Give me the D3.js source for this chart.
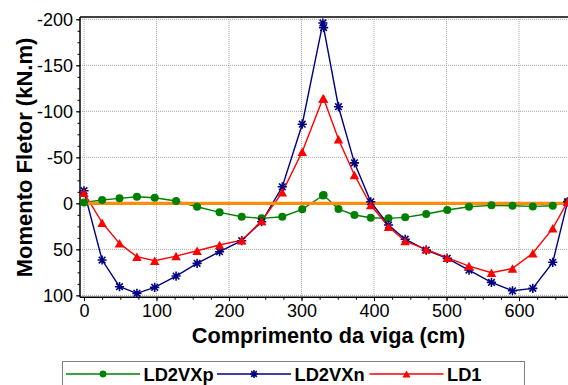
<!DOCTYPE html>
<html>
<head>
<meta charset="utf-8">
<script src="https://cdn.jsdelivr.net/npm/d3@7"></script>
<style>
html, body { margin: 0; padding: 0; background: #fff; }
svg { display: block; font-family: "Liberation Sans", Arial, sans-serif; }
</style>
</head>
<body>
<svg id="chart" width="568" height="385"></svg>
<script>
// ---- data ----
const positions = [0, 25, 49, 73, 97.5, 127, 156, 187, 217.5, 245, 273.5, 301, 329.5, 330.5, 351, 373, 395.5, 420, 443, 472, 501, 531, 562, 591, 619, 646.5, 667];
const LD2VXp = [-1, -3.6, -5.4, -7.2, -6.1, -2.5, 3.7, 9.8, 14.6, 16.3, 14.6, 6.5, -8.5, -9, 6.2, 12.7, 15.6, 16.3, 15.2, 11.6, 7.3, 3.7, 2.2, 2.6, 3.3, 2.6, -1.7];
const LD2VXn = [-13.7, 61.6, 90.6, 97.8, 91.3, 79, 65.2, 52.6, 40.6, 20, -18, -86, -196, -191, -105, -44, -1.7, 23.6, 39, 50.8, 59.8, 72.5, 85.9, 95, 92.4, 64.1, -1.7];
const LD1 = [-11.5, 21, 43.5, 58, 62.4, 57.3, 51.5, 45.3, 40, 19.2, -12, -56, -114, -114, -69.6, -30.8, 1.8, 25.4, 41, 50, 59.1, 68.2, 75.4, 70.7, 54.3, 27.2, -1.7];
const zeroLine = [[0, 0], [667, 0]];
const xTicks = [0, 100, 200, 300, 400, 500, 600];
const yTicks = [-200, -150, -100, -50, 0, 50, 100];
const seriesNames = ["LD2VXp", "LD2VXn", "LD1"];
const xTitle = "Comprimento da viga (cm)";
const yTitle = "Momento Fletor (kN.m)";

// ---- layout ----
const L = 80, R = 567.6, T = 17, B = 297.2;
const svg = d3.select("#chart");
const x = d3.scaleLinear().domain([-5.5, 667]).range([L, R]);
const y = d3.scaleLinear().domain([-202.5, 102]).range([T, B]);

const colors = { LD2VXp: "#008000", LD2VXn: "#000080", LD1: "#ff0000" };

// grid
const grid = svg.append("g");
grid.selectAll("line.v").data(xTicks).join("line")
  .attr("x1", d => x(d)).attr("x2", d => x(d)).attr("y1", T).attr("y2", B)
  .attr("stroke", "#a6a6a6").attr("stroke-width", 1).attr("stroke-dasharray", "1,1");
grid.selectAll("line.h").data(yTicks).join("line")
  .attr("x1", L).attr("x2", R).attr("y1", d => y(d)).attr("y2", d => y(d))
  .attr("stroke", "#a6a6a6").attr("stroke-width", 1).attr("stroke-dasharray", "1,1");

// axes
const yMinor = d3.range(-200, 100.01, 12.5);
const xMinor = d3.range(0, 667, 25);
const yAxisMinor = d3.axisLeft(y).tickValues(yMinor).tickSize(2.5).tickFormat("");
const yAxis = d3.axisLeft(y).tickValues(yTicks).tickSize(4).tickPadding(3).tickFormat(d => String(d));
const xAxisMinor = d3.axisBottom(x).tickValues(xMinor).tickSize(2.5).tickFormat("");
const xAxis = d3.axisBottom(x).tickValues(xTicks).tickSize(4).tickPadding(5).tickFormat(d => String(d));

function style(g) {
  g.select(".domain").remove();
  g.selectAll("line").attr("stroke", "#000").attr("stroke-width", 1);
  g.selectAll("text").attr("font-size", 18).attr("fill", "#000")
    .attr("font-family", "'Liberation Sans', Arial, sans-serif");
}
svg.append("g").attr("transform", `translate(${L},0)`).call(yAxisMinor).call(style);
svg.append("g").attr("transform", `translate(${L},0)`).call(yAxis).call(style);
svg.append("g").attr("transform", `translate(0,${B})`).call(xAxisMinor).call(style);
const xa = svg.append("g").attr("transform", `translate(0,${B})`).call(xAxis).call(style);
xa.selectAll("text").attr("dy", null).attr("y", 20.3);

// frame lines
svg.append("line").attr("x1", L).attr("x2", 568).attr("y1", T).attr("y2", T).attr("stroke", "#000").attr("stroke-width", 1.5);
svg.append("line").attr("x1", L).attr("x2", L).attr("y1", T).attr("y2", B).attr("stroke", "#000").attr("stroke-width", 1.5);
svg.append("line").attr("x1", L).attr("x2", 568).attr("y1", B).attr("y2", B).attr("stroke", "#000").attr("stroke-width", 1.5);

// series
const seriesData = [
  { name: "LD2VXp", values: LD2VXp },
  { name: "LD2VXn", values: LD2VXn },
  { name: "LD1", values: LD1 }
];
const line = d3.line().x(d => x(d[0])).y(d => y(d[1]));
seriesData.forEach(s => {
  const pts = positions.map((p, i) => [p, s.values[i]]);
  svg.append("path").datum(pts).attr("d", line)
    .attr("fill", "none").attr("stroke", colors[s.name]).attr("stroke-width", 1.4);
});

// zero (orange) line
svg.append("path").datum(zeroLine).attr("d", line)
  .attr("stroke", "#ff8c0a").attr("stroke-width", 3.2).attr("fill", "none");

// markers
function starPath(s) {
  const d = s * 0.72;
  return `M${-s},0L${s},0M0,${-s}L0,${s}M${-d},${-d}L${d},${d}M${-d},${d}L${d},${-d}`;
}
function triPath(w, h) {
  return `M0,${-h / 2}L${w / 2},${h / 2}L${-w / 2},${h / 2}Z`;
}
function drawMarker(g, name, cx, cy, scale) {
  if (name === "LD2VXp") {
    g.append("circle").attr("cx", cx).attr("cy", cy).attr("r", 4 * scale).attr("fill", colors[name]);
  } else if (name === "LD2VXn") {
    g.append("path").attr("d", starPath(4.6 * scale)).attr("transform", `translate(${cx},${cy})`)
      .attr("stroke", colors[name]).attr("stroke-width", 1.6).attr("fill", "none");
  } else {
    g.append("path").attr("d", triPath(9.5 * scale, 8.5 * scale)).attr("transform", `translate(${cx},${cy})`)
      .attr("fill", colors[name]);
  }
}
const mk = svg.append("g");
seriesData.forEach(s => {
  positions.forEach((p, i) => drawMarker(mk, s.name, x(p), y(s.values[i]), 1));
});

// axis titles
svg.append("text").attr("x", 328.5).attr("y", 343).attr("text-anchor", "middle")
  .attr("font-size", 21.7).attr("font-weight", "bold").text(xTitle);
svg.append("text").attr("transform", `translate(32,157.5) rotate(-90)`).attr("text-anchor", "middle")
  .attr("font-size", 22).attr("font-weight", "bold").text(yTitle);

// legend
const lg = svg.append("g");
lg.append("rect").attr("x", 62.5).attr("y", 361.5).attr("width", 462).attr("height", 40)
  .attr("fill", "#fff").attr("stroke", "#808080").attr("stroke-width", 1);
const legendX = [66, 217, 369.5];
seriesNames.forEach((n, i) => {
  const x0 = legendX[i];
  lg.append("line").attr("x1", x0).attr("x2", x0 + 74).attr("y1", 374).attr("y2", 374)
    .attr("stroke", colors[n]).attr("stroke-width", 1.4);
  drawMarker(lg, n, x0 + 37, 374, 0.85);
  lg.append("text").attr("x", x0 + 77.5).attr("y", 381).attr("font-size", 18.3)
    .attr("font-weight", "bold").attr("fill", "#000").text(n);
});
</script>
</body>
</html>
